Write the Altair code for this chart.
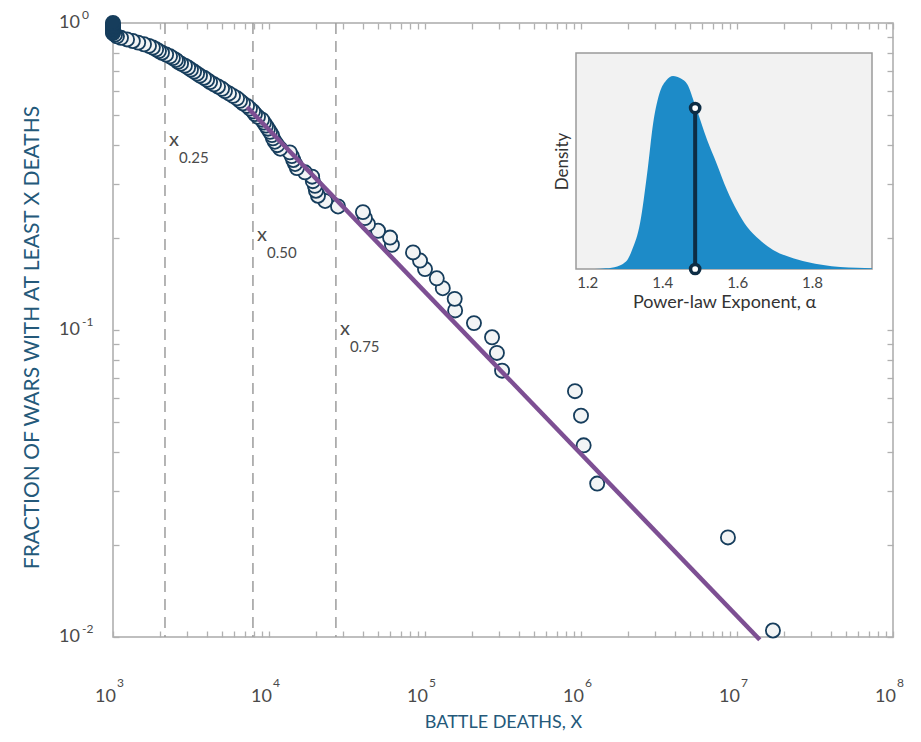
import altair as alt
import pandas as pd

# ---------------- data ----------------
# battle deaths of each war (largest first) and fraction of wars with at least that many deaths
deaths = [17000000, 8750000, 1270000, 1040000, 1000000, 915000, 312000, 289000, 269000, 206000,
          156000, 155000, 130000, 119000, 100000, 92900, 83800, 61400, 59700, 50000,
          43100, 41200, 40000, 27700, 22900, 20600, 20000, 19700, 19100, 18900,
          17000, 15100, 14700, 14300, 14000, 13600, 11800, 11300, 10900, 10600,
          10450, 10150, 9850, 9570, 9290, 9020, 8500, 8130, 7900, 7550,
          7230, 6810, 6520, 6240, 5880, 5540, 5220, 5000, 4710, 4440,
          4190, 4010, 3830, 3610, 3460, 3310, 3160, 3030, 2890, 2730,
          2610, 2530, 2420, 2320, 2190, 2060, 1970, 1890, 1800, 1700,
          1580, 1450, 1340, 1230, 1125, 1060, 1030, 1000, 1000, 1000,
          1000, 1000, 1000, 1000, 1000]
frac = [0.0105, 0.0211, 0.0316, 0.0421, 0.0526, 0.0632, 0.0737, 0.0842, 0.0947, 0.1053,
        0.1158, 0.1263, 0.1368, 0.1474, 0.1579, 0.1684, 0.1789, 0.1895, 0.2000, 0.2105,
        0.2211, 0.2316, 0.2421, 0.2526, 0.2632, 0.2737, 0.2842, 0.2947, 0.3053, 0.3158,
        0.3263, 0.3368, 0.3474, 0.3579, 0.3684, 0.3789, 0.3895, 0.4000, 0.4105, 0.4211,
        0.4316, 0.4421, 0.4526, 0.4632, 0.4737, 0.4842, 0.4947, 0.5053, 0.5158, 0.5263,
        0.5368, 0.5474, 0.5579, 0.5684, 0.5789, 0.5895, 0.6000, 0.6105, 0.6211, 0.6316,
        0.6421, 0.6526, 0.6632, 0.6737, 0.6842, 0.6947, 0.7053, 0.7158, 0.7263, 0.7368,
        0.7474, 0.7579, 0.7684, 0.7789, 0.7895, 0.8000, 0.8105, 0.8211, 0.8316, 0.8421,
        0.8526, 0.8632, 0.8737, 0.8842, 0.8947, 0.9053, 0.9158, 0.9263, 0.9368, 0.9474,
        0.9579, 0.9684, 0.9789, 0.9895, 1.0000]

# fitted power law (start and end of the purple line)
fit_deaths = [7230, 14000000]
fit_frac = [0.5325, 0.0098]

# quantile markers
q_deaths = [2154, 7890, 26850]
q_label_frac = [0.416, 0.204, 0.101]
q_sub = ["0.25", "0.50", "0.75"]

# axis tick labels
x_decades = [3, 4, 5, 6, 7, 8]
y_decades = [0, -1, -2]
minor_mults = [2, 3, 4, 5, 6, 7, 8, 9]

# inset: posterior density of the power-law exponent
alpha_grid = [1.17, 1.22, 1.25, 1.28, 1.30, 1.307, 1.32, 1.341, 1.36, 1.376, 1.395, 1.41, 1.429,
              1.45, 1.467, 1.488, 1.52, 1.545, 1.573, 1.60, 1.627, 1.66, 1.696, 1.74, 1.787,
              1.83, 1.875, 1.92, 1.96]
density = [0, 0, 0.03, 0.12, 0.30, 0.42, 0.90, 2.13, 4.44, 6.76, 8.25, 8.72, 8.94,
           8.82, 8.55, 7.59, 5.97, 4.90, 3.66, 2.70, 1.94, 1.35, 0.88, 0.55, 0.32,
           0.18, 0.09, 0.06, 0.04]
alpha_hat = [1.488]
alpha_hat_density = [7.45]
inset_alpha_domain = [1.17, 1.96]
inset_density_domain = [0, 10]
inset_ticks = [1.2, 1.4, 1.6, 1.8]

# ---------------- styling ----------------
W, H = 780, 614
DARK = "#163d5c"
LIGHT = "#f2f4f5"
PURPLE = "#7d4f93"
TITLE = "#24597a"
LABEL = "#4a4a4a"
FONT = "Lato"

x_ticks = [float(m * 10.0 ** e) for e in x_decades[:-1] for m in minor_mults] + [10.0 ** e for e in x_decades]
y_ticks = [float(m * 10.0 ** e) for e in y_decades[1:] for m in minor_mults] + [10.0 ** e for e in y_decades]

xs = alt.Scale(type="log", domain=[10.0 ** min(x_decades), 10.0 ** max(x_decades)], nice=False)
ys = alt.Scale(type="log", domain=[10.0 ** min(y_decades), 10.0 ** max(y_decades)], nice=False)

tick_common = dict(labels=False, domain=False, grid=False, tickColor="#b0b0b0",
                   tickSize=6, tickWidth=1.3, offset=-6)

pts = pd.DataFrame({"deaths": deaths, "frac": frac})
fit = pd.DataFrame({"deaths": fit_deaths, "frac": fit_frac})
qdf = pd.DataFrame({"deaths": q_deaths, "frac": q_label_frac, "x": ["x"] * 3, "sub": q_sub})
xl = pd.DataFrame({"deaths": [10.0 ** e for e in x_decades], "frac": 10.0 ** min(y_decades),
                   "base": "10", "sup": [str(e) for e in x_decades]})
yl = pd.DataFrame({"deaths": 10.0 ** min(x_decades), "frac": [10.0 ** e for e in y_decades],
                   "base": "10", "sup": [str(e) for e in y_decades]})

rules = alt.Chart(qdf).mark_rule(color="#9c9c9c", strokeDash=[11, 7], strokeWidth=1.5).encode(
    x=alt.X("deaths:Q", scale=xs,
            axis=alt.Axis(orient="bottom", values=x_ticks, title="BATTLE DEATHS, X",
                          titleFont=FONT, titleFontSize=18, titleFontWeight="normal",
                          titleColor=TITLE, titlePadding=76, **tick_common)))

points = alt.Chart(pts).mark_circle(size=200, stroke=DARK, strokeWidth=1.8, opacity=1).encode(
    x=alt.X("deaths:Q", scale=xs, axis=None),
    y=alt.Y("frac:Q", scale=ys,
            axis=alt.Axis(orient="left", values=y_ticks, title="FRACTION OF WARS WITH AT LEAST X DEATHS",
                          titleFont=FONT, titleFontSize=21, titleFontWeight="normal",
                          titleColor=TITLE, titlePadding=70, titleY=314, **tick_common)),
    fill=alt.condition("datum.deaths <= 1000", alt.value(DARK), alt.value(LIGHT)))

line = alt.Chart(fit).mark_line(color=PURPLE, strokeWidth=4.5).encode(
    x=alt.X("deaths:Q", scale=xs, axis=alt.Axis(orient="top", values=x_ticks, title=None, **tick_common)),
    y=alt.Y("frac:Q", scale=ys, axis=alt.Axis(orient="right", values=y_ticks, title=None, **tick_common)))


def txt(df, field, **kw):
    return alt.Chart(df).mark_text(font=FONT, color=LABEL, **kw).encode(
        x=alt.X("deaths:Q", scale=xs, axis=None),
        y=alt.Y("frac:Q", scale=ys, axis=None),
        text=f"{field}:N")


q_x = txt(qdf, "x", align="left", baseline="middle", dx=4, fontSize=20)
q_s = txt(qdf, "sub", align="left", baseline="middle", dx=14, dy=18, fontSize=15)
x_base = txt(xl, "base", align="right", baseline="middle", dx=3, dy=60, fontSize=18)
x_sup = txt(xl, "sup", align="left", baseline="middle", dx=4, dy=46, fontSize=12)
y_base = txt(yl, "base", align="right", baseline="middle", dx=-33, fontSize=18)
y_sup = txt(yl, "sup", align="left", baseline="middle", dx=-31, dy=-8, fontSize=12)

main = alt.layer(rules, points, line, q_x, q_s, x_base, x_sup, y_base, y_sup).resolve_axis(
    x="independent", y="independent")

# ---------------- inset ----------------
xi = alt.Scale(domain=inset_alpha_domain, range=[463, 759], nice=False, zero=False)
yi = alt.Scale(domain=inset_density_domain, range=[246, 30], nice=False, zero=False)

bg = alt.Chart(pd.DataFrame({"alpha": [inset_alpha_domain[0]], "alpha2": [inset_alpha_domain[1]],
                             "dens": [inset_density_domain[0]], "dens2": [inset_density_domain[1]]})
               ).mark_rect(fill="#f2f2f2", stroke="#9a9a9a", strokeWidth=1.5).encode(
    x=alt.X("alpha:Q", scale=xi,
            axis=alt.Axis(orient="bottom", offset=-368, values=inset_ticks, format=".1f", ticks=False,
                          domain=False, grid=False, labelFont=FONT, labelFontSize=15,
                          labelColor="#444444", labelPadding=6, title="Power-law Exponent, α",
                          titleFont=FONT, titleFontSize=18, titleFontWeight="normal",
                          titleColor="#333333", titlePadding=3)),
    x2="alpha2:Q",
    y=alt.Y("dens:Q", scale=yi,
            axis=alt.Axis(orient="left", offset=-463, labels=False, ticks=False, domain=False,
                          grid=False, title="Density", titleFont=FONT, titleFontSize=17,
                          titleFontWeight="normal", titleColor="#333333", titlePadding=5)),
    y2="dens2:Q")

dens_df = pd.DataFrame({"alpha": alpha_grid, "dens": density})
area = alt.Chart(dens_df).mark_area(color="#1d8bc8", interpolate="monotone", opacity=1).encode(
    x=alt.X("alpha:Q", scale=xi), y=alt.Y("dens:Q", scale=yi))

hat = pd.DataFrame({"alpha": alpha_hat * 2, "dens": [0, alpha_hat_density[0]]})
hat_rule = alt.Chart(pd.DataFrame({"alpha": alpha_hat, "dens": [0], "dens2": alpha_hat_density})
                     ).mark_rule(color="#0d2d45", strokeWidth=4).encode(
    x=alt.X("alpha:Q", scale=xi), y=alt.Y("dens:Q", scale=yi), y2="dens2:Q")
hat_pts = alt.Chart(hat).mark_point(shape="circle", filled=True, fill="white", stroke="#0d2d45",
                                    strokeWidth=3.5, size=85, opacity=1).encode(
    x=alt.X("alpha:Q", scale=xi), y=alt.Y("dens:Q", scale=yi))

inset = alt.layer(bg, area, hat_rule, hat_pts)

chart = alt.layer(main, inset).resolve_scale(x="independent", y="independent").properties(
    width=W, height=H, autosize=alt.AutoSizeParams(type="none"),
    padding={"left": 105, "top": 15, "right": 20, "bottom": 96}
).configure_view(stroke="#ababab", strokeWidth=1.5)

chart.save("out.html", embed_options={"renderer": "svg", "actions": False})
